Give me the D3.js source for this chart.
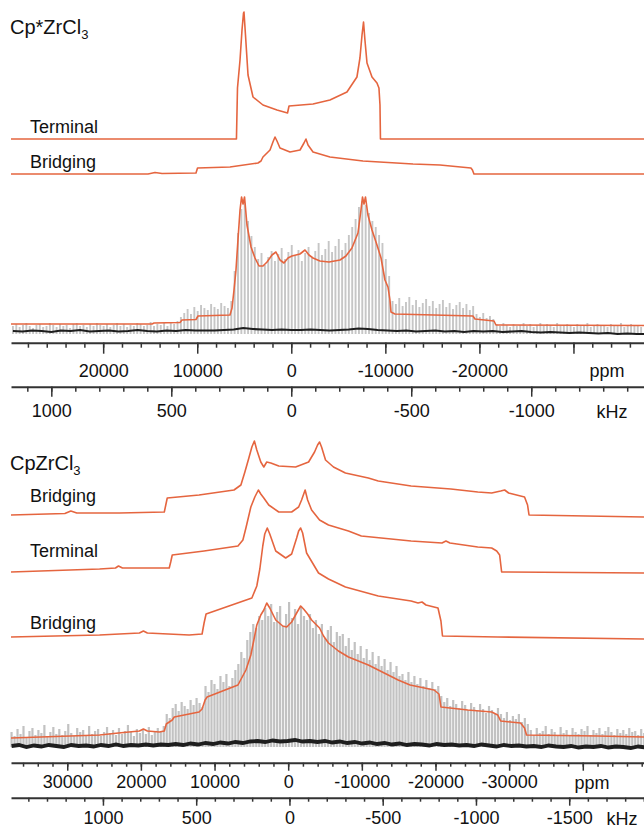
<!DOCTYPE html>
<html>
<head>
<meta charset="utf-8">
<script src="https://cdn.jsdelivr.net/npm/d3@7/dist/d3.min.js"></script>
<style>
  body { margin: 0; background: #fff; }
  svg { display: block; font-family: "Liberation Sans", Arial, sans-serif; }
</style>
</head>
<body>
<div id="chart"></div>
<script>
// ---- data: [ppm, intensity (a.u.)] for simulations / fits ----
const topTerminal = [
  [29800, 0], [5830, 0], [5720, 51], [5450, 79], [5240, 109], [5080, 126], [5030, 127], [4870, 104],
  [4600, 64], [4070, 42], [3010, 34], [1520, 29], [400, 26], [240, 33], [-2310, 35], [-4110, 39],
  [-5920, 47], [-6980, 62], [-7300, 81], [-7520, 104], [-7680, 117], [-7830, 99], [-8050, 76],
  [-8580, 62], [-9110, 56], [-9320, 51], [-9430, 34], [-9480, 0], [-37500, 0]
]
const topBridging = [
  [29800, 0], [15230, 0], [14490, 1.5], [13740, 0.5], [10130, 1], [9970, 6], [6520, 7], [3540, 11],
  [3220, 13], [3010, 17], [2260, 24], [1950, 32], [1730, 37], [1520, 33], [1200, 26], [140, 22],
  [-930, 24], [-1350, 31], [-1560, 35], [-1780, 29], [-2310, 22], [-4110, 17], [-7620, 13],
  [-12940, 10], [-15810, 9], [-19100, 6], [-19260, 4], [-19420, 0], [-37500, 0]
]
const topFit = [
  [29800, 0], [14810, 0], [14590, 1], [11830, 1.5], [11620, 4], [10130, 4.5], [9920, 8], [6520, 9],
  [6300, 16], [6090, 34], [5880, 54], [5670, 84], [5450, 114], [5290, 127], [5130, 120], [4970, 127],
  [4710, 99], [4280, 77], [3860, 66], [3430, 58], [3010, 58], [2580, 62], [2050, 69], [1630, 72],
  [1200, 64], [780, 61], [350, 66], [-70, 68], [-920, 70], [-1460, 74], [-1880, 69], [-2310, 66],
  [-3050, 63], [-4010, 62], [-5180, 64], [-5810, 68], [-6450, 76], [-7090, 91], [-7410, 114],
  [-7570, 127], [-7730, 120], [-7890, 127], [-8150, 109], [-8580, 94], [-9110, 79], [-9540, 66],
  [-9960, 44], [-10280, 37], [-10490, 24], [-10600, 12], [-11020, 10], [-19310, 8], [-19530, 5],
  [-21550, 3], [-21760, -1], [-37500, -1.5]
]
// spikelet heights, one per spikelet of the CPMG comb (from 1160 kHz, every 14 kHz)
const topSticks = [
  5, 7, 4, 6, 8, 5, 3, 6, 7, 4, 5, 8, 6, 4, 7, 5, 6, 3, 7, 8, 5, 6, 4, 7, 5, 8, 6, 5, 7, 4,
  6, 8, 5, 7, 4, 6, 5, 8, 7, 5, 6, 9, 5, 7, 6, 8, 5, 9, 7, 10,
  14, 18, 22, 17, 24, 20, 26, 23, 21, 27, 24, 22, 28, 25, 23, 30,
  60, 98, 122, 128, 110,
  95, 84, 72, 78, 66, 74, 80, 70, 77, 83, 72, 79, 86, 75, 81, 70, 78, 84, 73, 80,
  88, 76, 82, 90, 79, 85, 92, 81, 88, 96, 104,
  112, 124, 130, 126, 118, 110, 104, 96, 88, 72, 55,
  30, 27, 33, 25, 29, 34, 26, 31, 24, 28, 32, 25, 30, 23, 27, 31, 24, 28, 22, 26, 29, 23, 27, 21, 25,
  17, 14, 18, 13, 15, 12,
  7, 5, 8, 6, 4, 7, 5, 6, 8, 5, 7, 4, 6, 8, 5, 7, 6, 4, 8, 5, 6, 7, 5, 4, 7, 6, 5, 8, 4, 6,
  7, 5, 6, 4, 7, 5, 6, 8, 4, 5, 7, 6, 5, 4
]
// baseline of the experimental trace (from 1160 kHz, every 40 kHz)
const topNoise = [
  0, -0.5, 0.5, 0, -1, 0.5, 0, 1, -0.5, 0, 0.5, -0.5, 0, 1, 0, -0.5, 0.5, 0, 1, 0.5,
  0.5, 0.5, 1, 1.5, 3, 2, 1.5, 1, 1.5, 1, 1, 1.5, 1, 0.5, 1, 1.5, 2.5, 2, 1, 0.5,
  0, 0.5, -0.5, 0, 0.5, -0.5, 0, -1, 0, -0.5, 0, -1, -0.5, 0, -1, -1.5, -1, -1.5, -2, -1.5,
  -2, -2.5, -2, -3, -2.5, -3, -3
]

const botBridging1 = [
  [37635, 0], [30320, 1.5], [29510, 4], [28700, 2], [22910, 2], [16820, 3], [16620, 10], [16420, 17],
  [12100, 20], [7360, 25], [6420, 30], [5880, 43], [5340, 57], [4930, 68], [4590, 74], [4260, 65],
  [3720, 53], [3310, 48], [2910, 53], [2360, 52], [1280, 49], [-1010, 48], [-2770, 53], [-3580, 63],
  [-3990, 70], [-4260, 73], [-4530, 68], [-5070, 55], [-6150, 48], [-7770, 42], [-10880, 37],
  [-12230, 34], [-16690, 29], [-22090, 26], [-25740, 23], [-27630, 22], [-28850, 24], [-29390, 25],
  [-29930, 22], [-32090, 18], [-32500, 10], [-32700, 0], [-48310, -2]
]
const botTerminal = [
  [37635, 0], [25610, 3], [23450, 4], [23040, 6], [22500, 4], [16150, 4], [15950, 10], [15740, 17],
  [11420, 21], [6820, 26], [6150, 32], [5740, 44], [5070, 65], [4530, 75], [4050, 82], [3720, 78],
  [3310, 74], [2640, 67], [1280, 60], [-470, 60], [-1420, 65], [-1820, 72], [-2300, 82], [-2640, 72],
  [-3180, 62], [-4260, 52], [-5470, 47], [-8180, 41], [-9930, 36], [-16690, 31], [-20880, 29],
  [-21420, 31], [-21960, 29], [-25740, 25], [-27630, 24], [-28310, 21], [-28710, 17], [-28980, 0],
  [-48310, -1]
]
const botBridging2 = [
  [37635, -1], [25610, 1], [20200, 3], [19660, 5], [19120, 3], [13450, 1], [11690, 2], [11420, 13],
  [11150, 22], [8040, 30], [4930, 38], [4260, 50], [3850, 67], [3450, 90], [3180, 102], [2840, 108],
  [2500, 102], [1690, 85], [340, 78], [-470, 82], [-1150, 98], [-1420, 105], [-1690, 108], [-1960, 103],
  [-2500, 83], [-4120, 63], [-5470, 57], [-7770, 49], [-12230, 40], [-16690, 35], [-17630, 33],
  [-18170, 34], [-18710, 31], [-20340, 28], [-20740, 15], [-20950, 0], [-28450, -1], [-48310, -3]
]
const botFit = [
  [37635, 0], [25610, 3], [23040, 5], [20200, 7], [19660, 9], [19120, 7], [17500, 6], [16820, 7],
  [16550, 14], [15740, 18], [15470, 21], [12100, 26], [11690, 29], [11280, 38], [11010, 41],
  [6820, 53], [5740, 68], [5070, 83], [4660, 98], [4260, 113], [3720, 123], [3310, 128], [2910, 135],
  [2500, 130], [1690, 118], [740, 112], [200, 111], [-470, 116], [-1150, 125], [-1690, 132],
  [-2090, 129], [-2640, 124], [-3180, 118], [-3850, 113], [-4260, 110], [-4800, 102], [-5470, 95],
  [-6820, 87], [-8180, 81], [-10880, 73], [-14930, 58], [-16550, 53], [-19800, 48], [-20470, 44],
  [-20740, 31], [-24390, 28], [-27630, 26], [-28450, 23], [-28850, 17], [-31550, 15], [-32090, 10],
  [-32360, 3], [-41960, 2], [-48310, 1]
]
// spikelets from 1490 kHz, every 16 kHz
const botSticks = [
  12, 8, 15, 10, 18, 7, 13, 16, 9, 14, 11, 19, 8, 12, 17, 10, 15, 9, 13, 20, 11, 8, 16, 12, 14, 9,
  18, 10, 13, 15, 8, 12, 17, 11, 14, 9, 16, 10, 13, 19, 12, 8, 15, 11, 14, 10, 17, 9, 13, 16, 12, 18,
  30, 26, 36, 40, 33, 42, 38, 35, 44, 39, 46, 41, 37,
  58, 52, 64, 60, 55, 68, 62, 70, 58, 66, 74, 80,
  92, 86, 104, 112, 120, 116, 128, 124,
  136, 128, 140, 122, 132, 138, 118, 130, 142, 126, 135, 120, 138, 128, 124, 130,
  116, 124, 110, 120, 106, 114, 118, 102, 112, 108,
  110, 98, 106, 94, 102, 90, 98, 86, 95, 84, 92, 80, 88, 78, 85, 74, 82, 72, 78, 68,
  70, 64, 72, 62, 68, 60, 66, 58, 64, 56, 62, 55, 58,
  48, 42, 46, 38, 44, 40, 36, 43, 39, 34, 41, 37, 33, 40, 35, 31, 38, 34, 30, 36,
  30, 26, 32, 24, 28, 25, 30, 22, 26, 20,
  14, 9, 16, 11, 13, 18, 10, 15, 12, 8, 17, 11, 14, 9, 16, 12, 10, 15, 13, 18, 9, 14, 11, 16, 10,
  13, 17, 12, 9, 15, 11, 14, 10, 16, 12, 13, 9, 15, 11
]
// from 1490 kHz, every 40 kHz
const botNoise = [
  -2, -1, -3, -1.5, -2.5, -1, -2, -3, -1, -2, -1.5, -2.5, -1, -2, -0.5, -2, -1, -1.5, -0.5, -1.5,
  -0.5, -1, 0, -1, 0.5, -0.5, 1, 0, 1.5, 0.5, 2, 1, 2.5, 3, 2, 3.5, 2.5, 3, 4, 2.5,
  3, 2, 3, 1.5, 2.5, 1, 2, 0.5, 1.5, 0, 1, -0.5, 0.5, -1, 0, -0.5, -1.5, 0, -1, -0.5,
  -1.5, -1, -2, -0.5, -1.5, -2.5, -1, -2, -1.5, -2.5, -2, -3, -1.5, -2.5, -3, -2, -3.5, -2.5, -3, -2,
  -3.5, -2.5, -3, -4, -2.5, -3.5
]

// tick values
const topPpmMajor = [20000, 10000, 0, -10000, -20000, -30000]
const topPpmLabels = [20000, 10000, 0, -10000, -20000]
const topKhzMajor = [1000, 500, 0, -500, -1000]
const topKhzLabels = [1000, 500, 0, -500, -1000]
const botPpmMajor = [30000, 20000, 10000, 0, -10000, -20000, -30000, -40000]
const botPpmLabels = [30000, 20000, 10000, 0, -10000, -20000, -30000]
const botKhzMajor = [1000, 500, 0, -500, -1000, -1500]
const botKhzLabels = [1000, 500, 0, -500, -1000, -1500]

// ---- layout ----
const width = 644, height = 830
const orange = "#e5653f"

const panels = [
  {
    title: "Cp*ZrCl", titleY: 34,
    ppm: d3.scaleLinear().domain([29800, -37500]).range([11, 644]),
    khz: d3.scaleLinear().domain([1168, -1470]).range([11, 644]),
    traces: [
      { data: topTerminal, base: 139, label: "Terminal", labelY: 133 },
      { data: topBridging, base: 174, label: "Bridging", labelY: 168 },
    ],
    fit: { data: topFit, base: 324 },
    sticks: { data: topSticks, start: 1160, step: 14, base: 331, width: 1.9, color: "#c6c6c6" },
    noise: { data: topNoise, start: 1160, step: 40, base: 331, width: 2.2 },
    axes: [
      { unit: "ppm", unitX: 607, y: 342.7, scale: "ppm", major: topPpmMajor, labels: topPpmLabels, minorStep: 2000, majorLen: 11, minorLen: 5, pad: 10.5 },
      { unit: "kHz", unitX: 612, y: 386.7, scale: "khz", major: topKhzMajor, labels: topKhzLabels, minorStep: 100, majorLen: 10, minorLen: 5, pad: 8 },
    ],
  },
  {
    title: "CpZrCl", titleY: 470,
    ppm: d3.scaleLinear().domain([37635, -48310]).range([11, 644]),
    khz: d3.scaleLinear().domain([1493, -1901]).range([11, 644]),
    traces: [
      { data: botBridging1, base: 515, label: "Bridging", labelY: 502 },
      { data: botTerminal, base: 572, label: "Terminal", labelY: 557 },
      { data: botBridging2, base: 636, label: "Bridging", labelY: 629 },
    ],
    fit: { data: botFit, base: 738 },
    sticks: { data: botSticks, start: 1490, step: 16, base: 744, width: 2.2, color: "#c2c2c2" },
    noise: { data: botNoise, start: 1490, step: 40, base: 744, width: 3.8 },
    axes: [
      { unit: "ppm", unitX: 592, y: 762.7, scale: "ppm", major: botPpmMajor, labels: botPpmLabels, minorStep: 2000, majorLen: 8, minorLen: 4, pad: 5 },
      { unit: "kHz", unitX: 622, y: 797.7, scale: "khz", major: botKhzMajor, labels: botKhzLabels, minorStep: 100, majorLen: 8, minorLen: 4, pad: 6 },
    ],
  },
]

const svg = d3.select("#chart").append("svg")
  .attr("width", width)
  .attr("height", height)
  .style("background", "#fff")

function yFor(base) {
  return d3.scaleLinear().domain([0, 100]).range([base, base - 100])
}

function drawPanel(p) {
  const g = svg.append("g")

  // title with subscript
  const t = g.append("text")
    .attr("x", 10).attr("y", p.titleY)
    .attr("font-size", 20).attr("fill", "#111")
    .text(p.title)
  t.append("tspan").attr("font-size", 13).attr("dy", 5).text("3")

  // experimental spikelets
  const ys = yFor(p.sticks.base)
  g.append("g").selectAll("line")
    .data(p.sticks.data)
    .join("line")
      .attr("x1", (d, i) => p.khz(p.sticks.start - i * p.sticks.step))
      .attr("x2", (d, i) => p.khz(p.sticks.start - i * p.sticks.step))
      .attr("y1", ys(-3))
      .attr("y2", d => ys(d))
      .attr("stroke", p.sticks.color)
      .attr("stroke-width", p.sticks.width)

  // baseline noise
  const yn = yFor(p.noise.base)
  g.append("path")
    .datum(p.noise.data)
    .attr("d", d3.line()
      .x((d, i) => p.khz(p.noise.start - i * p.noise.step))
      .y(d => yn(d)))
    .attr("fill", "none")
    .attr("stroke", "#1e1e1e")
    .attr("stroke-width", p.noise.width)

  // simulations and fit
  const line = base => d3.line().x(d => p.ppm(d[0])).y(d => yFor(base)(d[1]))
  p.traces.concat([p.fit]).forEach(tr => {
    g.append("path")
      .datum(tr.data)
      .attr("d", line(tr.base))
      .attr("fill", "none")
      .attr("stroke", orange)
      .attr("stroke-width", 1.6)
      .attr("stroke-linejoin", "round")
  })

  p.traces.forEach(tr => {
    g.append("text")
      .attr("x", 30).attr("y", tr.labelY)
      .attr("font-size", 18).attr("fill", "#111")
      .text(tr.label)
  })

  // axes
  p.axes.forEach(a => {
    const sc = p[a.scale]
    const [d0, d1] = sc.domain()
    const lo = Math.ceil(Math.min(d0, d1) / a.minorStep) * a.minorStep
    const minor = d3.range(lo, Math.max(d0, d1), a.minorStep)

    const ga = g.append("g").attr("transform", `translate(0,${a.y})`)
    ga.call(d3.axisBottom(sc).tickValues(minor).tickSize(a.minorLen).tickSizeOuter(0).tickFormat(""))
    ga.selectAll(".tick line").attr("stroke", "#333").attr("stroke-width", 1.5)

    const gm = g.append("g").attr("transform", `translate(0,${a.y})`)
    gm.call(d3.axisBottom(sc).tickValues(a.major).tickSize(a.majorLen).tickSizeOuter(0).tickPadding(a.pad)
      .tickFormat(d => a.labels.includes(d) ? String(d) : ""))
    gm.select(".domain").remove()
    gm.selectAll(".tick line").attr("stroke", "#333").attr("stroke-width", 1.5)
    gm.selectAll(".tick text")
      .attr("font-size", 18).attr("fill", "#111")
      .attr("font-family", "Liberation Sans, Arial, sans-serif")

    ga.select(".domain").attr("stroke", "#333").attr("stroke-width", 2)

    g.append("text")
      .attr("x", a.unitX).attr("y", a.y + a.majorLen + a.pad + 12.8)
      .attr("text-anchor", "middle")
      .attr("font-size", 18).attr("fill", "#111")
      .text(a.unit)
  })
}

panels.forEach(drawPanel)
</script>
</body>
</html>
